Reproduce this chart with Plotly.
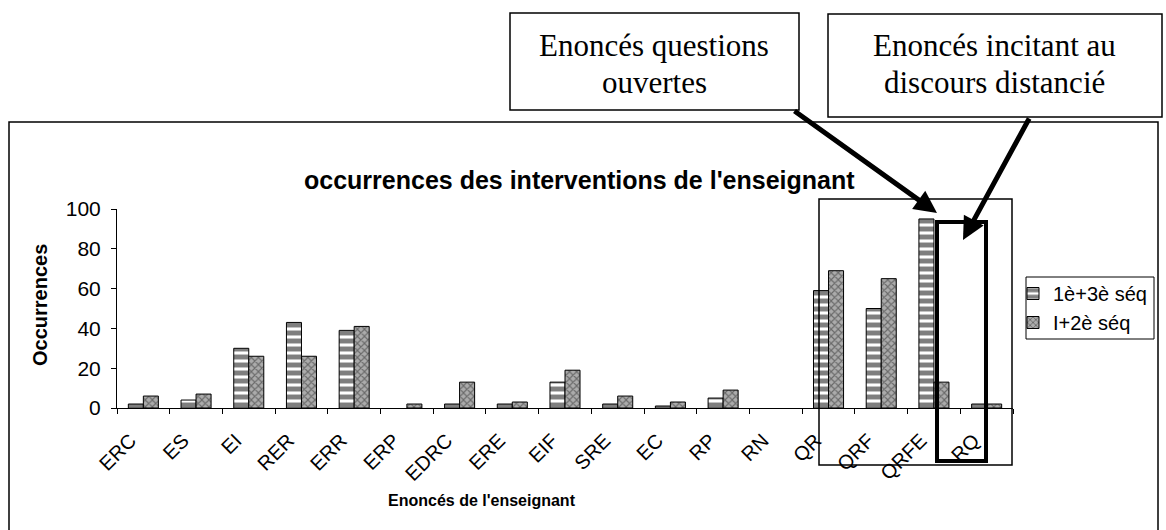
import plotly.graph_objects as go

categories = ["ERC", "ES", "EI", "RER", "ERR", "ERP", "EDRC", "ERE", "EIF",
              "SRE", "EC", "RP", "RN", "QR", "QRF", "QRFE", "RQ"]
seq_1_3 = [2, 4, 30, 43, 39, 0, 2, 2, 13, 2, 1, 5, 0, 59, 50, 95, 2]
seq_I_2 = [6, 7, 26, 26, 41, 2, 13, 3, 19, 6, 3, 9, 0, 69, 65, 13, 2]
series_names = ["1è+3è séq", "I+2è séq"]
y_ticks = [0, 20, 40, 60, 80, 100]

W, H = 1166, 530
L, R, T, B = 117, 1013, 209, 408  # plot area in pixels


def px(x):
    return (x - L) / (R - L)


def py(y):
    return (B - y) / (B - T)


SANS = "Liberation Sans, Arial, sans-serif"
SERIF = "Liberation Serif, Times New Roman, serif"


def outline(values):
    return [0 if v == 0 else 1 for v in values]


fig = go.Figure()
fig.add_trace(go.Bar(
    x=categories, y=seq_1_3, name=series_names[0],
    marker=dict(color="white", line=dict(color="black", width=outline(seq_1_3)),
                pattern=dict(shape="-", fgcolor="black", bgcolor="white",
                             size=8, solidity=0.62)),
))
fig.add_trace(go.Bar(
    x=categories, y=seq_I_2, name=series_names[1],
    marker=dict(color="white", line=dict(color="black", width=outline(seq_I_2)),
                pattern=dict(shape="x", fgcolor="#2a2a2a", bgcolor="#ababab",
                             size=5, solidity=0.4)),
))

fig.update_layout(
    width=W, height=H,
    margin=dict(l=L, r=W - R, t=T, b=H - B, pad=0, autoexpand=False),
    paper_bgcolor="white", plot_bgcolor="white",
    barmode="group", bargap=0.43, bargroupgap=0,
    font=dict(family=SANS, color="black", size=18),
    showlegend=True,
    legend=dict(x=px(1013), y=py(274), xanchor="left", yanchor="top",
                borderwidth=0, bgcolor="rgba(0,0,0,0)",
                font=dict(size=20, family=SANS), tracegroupgap=0,
                itemwidth=30),
    xaxis=dict(showgrid=False, showline=True, linecolor="black", linewidth=1,
               ticks="outside", ticklen=5, tickcolor="black",
               tickson="boundaries", tickangle=-45, ticklabelstandoff=12,
               ticklabelshift=-13,
               tickfont=dict(size=20, family=SANS), zeroline=False),
    yaxis=dict(range=[0, 100], tickvals=y_ticks, showgrid=False,
               showline=True, linecolor="black", linewidth=1,
               ticks="outside", ticklen=5, tickcolor="black",
               ticklabelstandoff=6,
               tickfont=dict(size=21, family=SANS), zeroline=False),
)

shapes = [
    # outer chart frame
    dict(type="rect", xref="paper", yref="paper", x0=px(9), x1=px(1158),
         y0=py(533), y1=py(122), line=dict(color="black", width=1.5)),
    # legend frame
    dict(type="rect", xref="paper", yref="paper", x0=px(1026), x1=px(1154),
         y0=py(339), y1=py(277), line=dict(color="black", width=1)),
    # thin box around QR..RQ
    dict(type="rect", xref="paper", yref="paper", x0=px(819), x1=px(1012),
         y0=py(465), y1=py(199), line=dict(color="black", width=1.5)),
    # bold box around RQ
    dict(type="rect", xref="paper", yref="paper", x0=px(937), x1=px(986),
         y0=py(461), y1=py(222), line=dict(color="black", width=4)),
    # callout boxes
    dict(type="rect", xref="paper", yref="paper", x0=px(510), x1=px(799),
         y0=py(110), y1=py(13), line=dict(color="black", width=1.5),
         fillcolor="white"),
    dict(type="rect", xref="paper", yref="paper", x0=px(828), x1=px(1162),
         y0=py(117), y1=py(14), line=dict(color="black", width=1.5),
         fillcolor="white"),
]
fig.update_layout(shapes=shapes)


def label(text, x, y, size, family=SANS, angle=0):
    return dict(text=text, xref="paper", yref="paper", x=px(x), y=py(y),
                xanchor="center", yanchor="middle", showarrow=False,
                textangle=angle, font=dict(size=size, family=family))


annotations = [
    label("<b>occurrences des interventions de l'enseignant</b>", 579, 180, 25),
    label("<b>Occurrences</b>", 40, 305, 20, angle=-90),
    label("<b>Enoncés de l'enseignant</b>", 482, 500, 16),
    label("Enoncés questions", 654, 45, 31, SERIF),
    label("ouvertes", 654, 83, 31, SERIF),
    label("Enoncés incitant au", 994, 45, 31, SERIF),
    label("discours distancié", 994, 83, 31, SERIF),
    # arrows
    dict(text="", xref="paper", yref="paper", x=px(937), y=py(213),
         axref="pixel", ayref="pixel", ax=793 - 937, ay=110 - 213,
         showarrow=True, arrowhead=2, arrowsize=0.9, arrowwidth=5,
         arrowcolor="black", standoff=0, startstandoff=0),
    dict(text="", xref="paper", yref="paper", x=px(963), y=py(240),
         axref="pixel", ayref="pixel", ax=1030 - 963, ay=117 - 240,
         showarrow=True, arrowhead=2, arrowsize=0.9, arrowwidth=5,
         arrowcolor="black", standoff=0, startstandoff=0),
]
fig.update_layout(annotations=annotations)

fig.write_html("out.html", config={"displayModeBar": False},
               post_script="document.body.style.margin='0';"
                           "document.body.style.padding='0';")
